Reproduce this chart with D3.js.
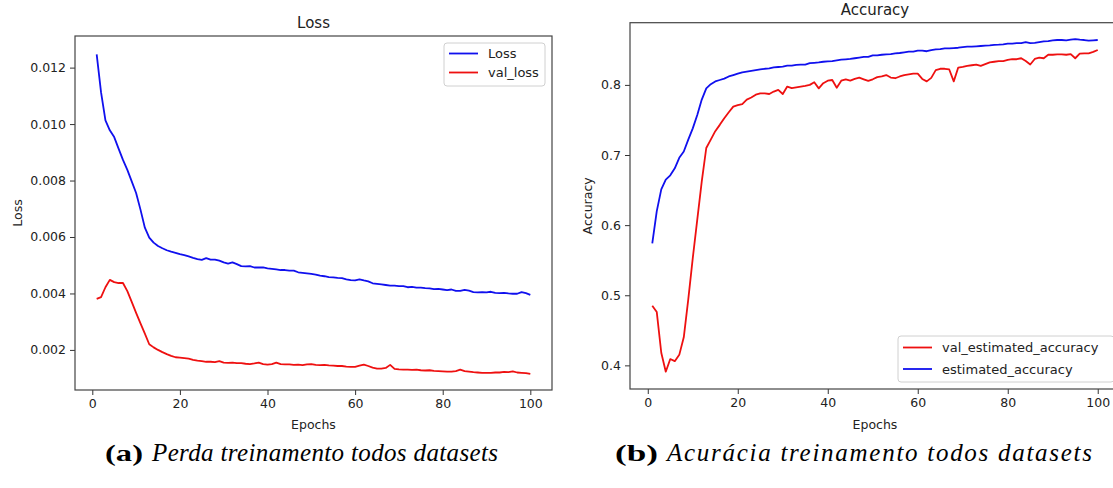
<!DOCTYPE html>
<html>
<head>
<meta charset="utf-8">
<script src="https://cdn.jsdelivr.net/npm/d3@7"></script>
<style>
  body { margin: 0; background: #fff; }
  text { font-family: "DejaVu Sans", sans-serif; fill: #222; }
  .caption text { font-family: "Liberation Serif", serif; fill: #000; }
</style>
</head>
<body>
<script>
// epochs 1..100
const epochs = d3.range(1, 101);

const loss = [0.01247,0.01112,0.01013,0.00978,0.00954,0.00913,0.00873,0.00838,0.00797,0.00756,
0.00697,0.00633,0.00598,0.0058,0.00568,0.0056,0.00553,0.00548,0.00544,0.00539,
0.00536,0.00531,0.00526,0.00522,0.00519,0.00525,0.0052,0.0052,0.00516,0.0051,
0.00506,0.0051,0.00504,0.00497,0.00496,0.00497,0.00492,0.00492,0.00492,0.00489,
0.00487,0.00485,0.00483,0.00483,0.00481,0.00481,0.00475,0.00473,0.00471,0.00469,
0.00467,0.00463,0.00461,0.00458,0.00457,0.00455,0.00454,0.0045,0.00447,0.00446,
0.0045,0.00446,0.00443,0.00436,0.00434,0.00432,0.0043,0.00428,0.00428,0.00426,
0.00426,0.00422,0.00423,0.00421,0.00421,0.00419,0.00418,0.00415,0.00416,0.00414,
0.00412,0.00414,0.00409,0.00409,0.00413,0.0041,0.00405,0.00404,0.00405,0.00404,
0.00406,0.00402,0.00401,0.00402,0.004,0.00399,0.00399,0.00405,0.00401,0.00395];

const valLoss = [0.00381,0.00387,0.00422,0.00448,0.0044,0.00437,0.00437,0.00408,0.0037,0.00331,
0.00294,0.00258,0.0022,0.00209,0.002,0.00192,0.00185,0.00179,0.00174,0.00173,
0.00171,0.00169,0.00165,0.00162,0.0016,0.00158,0.00158,0.00157,0.0016,0.00155,
0.00154,0.00155,0.00153,0.00153,0.00151,0.0015,0.00152,0.00155,0.0015,0.00148,
0.0015,0.00155,0.0015,0.00149,0.00149,0.00147,0.00148,0.00146,0.00149,0.0015,
0.00147,0.00146,0.00147,0.00145,0.00144,0.00143,0.00143,0.00141,0.0014,0.0014,
0.00144,0.00148,0.00143,0.00137,0.00134,0.00134,0.00136,0.00147,0.00133,0.00131,
0.0013,0.0013,0.00129,0.0013,0.00128,0.00127,0.00128,0.00126,0.00125,0.00124,
0.00123,0.00123,0.00125,0.0013,0.00125,0.00123,0.00121,0.0012,0.00119,0.00119,
0.00119,0.0012,0.0012,0.00122,0.00121,0.00124,0.0012,0.00119,0.00118,0.00115];

const estAcc = [0.574,0.62,0.651,0.665,0.671,0.681,0.696,0.705,0.722,0.738,
0.757,0.779,0.795,0.801,0.805,0.807,0.809,0.812,0.814,0.816,
0.818,0.819,0.82,0.821,0.822,0.823,0.8235,0.825,0.8255,0.826,
0.8275,0.8275,0.8285,0.829,0.829,0.831,0.8315,0.832,0.833,0.8335,
0.834,0.835,0.836,0.8365,0.837,0.838,0.839,0.84,0.84,0.842,
0.842,0.843,0.8436,0.844,0.845,0.8455,0.8465,0.8474,0.8474,0.8488,
0.849,0.848,0.8497,0.8507,0.851,0.852,0.852,0.8525,0.853,0.854,
0.8545,0.8545,0.855,0.8555,0.856,0.8564,0.857,0.8573,0.8578,0.859,
0.859,0.8595,0.8595,0.861,0.8597,0.86,0.861,0.862,0.8625,0.8635,
0.864,0.864,0.8635,0.8645,0.8654,0.8645,0.864,0.863,0.8635,0.864];

const valEstAcc = [0.485,0.476,0.418,0.391,0.409,0.406,0.415,0.44,0.494,0.553,
0.608,0.6625,0.71,0.722,0.734,0.743,0.7525,0.761,0.769,0.771,
0.7725,0.779,0.782,0.786,0.788,0.788,0.787,0.7905,0.793,0.787,
0.7976,0.7955,0.7965,0.7976,0.7986,0.8,0.8038,0.795,0.8024,0.806,
0.807,0.796,0.806,0.808,0.806,0.8085,0.8104,0.808,0.8057,0.808,
0.811,0.812,0.814,0.8105,0.8095,0.812,0.814,0.815,0.816,0.816,
0.8085,0.805,0.81,0.821,0.823,0.823,0.822,0.805,0.8247,0.8256,
0.827,0.828,0.829,0.827,0.8295,0.832,0.833,0.834,0.834,0.8356,
0.8366,0.8366,0.838,0.834,0.829,0.837,0.839,0.838,0.843,0.843,
0.8435,0.8436,0.843,0.844,0.838,0.8446,0.845,0.845,0.847,0.8498];

const xTicks = [0, 20, 40, 60, 80, 100];
const lossTicks = [0.002, 0.004, 0.006, 0.008, 0.010, 0.012];
const accTicks = [0.4, 0.5, 0.6, 0.7, 0.8];

const width = 1113, height = 488;
const svg = d3.select('body').append('svg').attr('width', width).attr('height', height);

function panel(cfg) {
  const x = d3.scaleLinear().domain([-3.95, 104.95]).range([cfg.left, cfg.right]);
  const y = d3.scaleLinear().domain(cfg.yDomain).range([cfg.bottom, cfg.top]);
  const g = svg.append('g');

  // axes
  const xa = g.append('g').attr('transform', `translate(0,${cfg.bottom})`)
    .call(d3.axisBottom(x).tickValues(xTicks).tickSize(5).tickPadding(4));
  const ya = g.append('g').attr('transform', `translate(${cfg.left},0)`)
    .call(d3.axisLeft(y).tickValues(cfg.yTicks).tickFormat(d3.format(cfg.fmt)).tickSize(5).tickPadding(4));
  [xa, ya].forEach(a => {
    a.select('.domain').remove();
    a.selectAll('.tick line').attr('stroke', '#333').attr('stroke-width', 1);
    a.selectAll('.tick text').attr('font-size', 12.5).attr('fill', '#222')
      .style('font-family', '"DejaVu Sans", sans-serif');
  });

  // lines
  cfg.series.forEach(s => {
    const line = d3.line().x((d, i) => x(epochs[i])).y(d => y(d));
    g.append('path').datum(s.values).attr('d', line)
      .attr('fill', 'none').attr('stroke', s.color).attr('stroke-width', 1.8)
      .attr('stroke-linejoin', 'round');
  });

  // frame
  g.append('rect').attr('x', cfg.left).attr('y', cfg.top)
    .attr('width', cfg.right - cfg.left).attr('height', cfg.bottom - cfg.top)
    .attr('fill', 'none').attr('stroke', '#444').attr('stroke-width', 1.2);

  // titles and labels
  const cx = (cfg.left + cfg.right) / 2;
  g.append('text').attr('x', cx).attr('y', cfg.titleY).attr('text-anchor', 'middle')
    .attr('font-size', 15).text(cfg.title);
  g.append('text').attr('x', cx).attr('y', 429).attr('text-anchor', 'middle')
    .attr('font-size', 12.5).text('Epochs');
  g.append('text').attr('transform', `translate(${cfg.yLabelX},${(cfg.top + cfg.bottom) / 2}) rotate(-90)`)
    .attr('text-anchor', 'middle').attr('font-size', 12.5).text(cfg.yLabel);

  // legend
  const L = cfg.legend;
  const lg = g.append('g');
  lg.append('rect').attr('x', L.x).attr('y', L.y).attr('width', L.w).attr('height', L.h)
    .attr('rx', 3).attr('fill', '#fff').attr('fill-opacity', 0.85)
    .attr('stroke', '#d0d0d0').attr('stroke-width', 1);
  L.items.forEach((it, i) => {
    const yy = L.y + L.first + i * L.step;
    lg.append('line').attr('x1', L.x + 5).attr('x2', L.x + 34).attr('y1', yy).attr('y2', yy)
      .attr('stroke', it.color).attr('stroke-width', 1.8);
    lg.append('text').attr('x', L.x + 44).attr('y', yy + 4.8).attr('font-size', 13).text(it.label);
  });
}

panel({
  left: 75, right: 552, top: 36, bottom: 390,
  yDomain: [0.00058, 0.01312], yTicks: lossTicks, fmt: '.3f',
  title: 'Loss', titleY: 28, yLabel: 'Loss', yLabelX: 22,
  series: [{ values: loss, color: '#1010ee' }, { values: valLoss, color: '#ee1010' }],
  legend: { x: 444, y: 43, w: 101, h: 43, first: 10.5, step: 19,
    items: [{ label: 'Loss', color: '#1010ee' }, { label: 'val_loss', color: '#ee1010' }] }
});

panel({
  left: 630, right: 1120, top: 22.7, bottom: 389,
  yDomain: [0.3663, 0.8887], yTicks: accTicks, fmt: '.1f',
  title: 'Accuracy', titleY: 15, yLabel: 'Accuracy', yLabelX: 592,
  series: [{ values: valEstAcc, color: '#ee1010' }, { values: estAcc, color: '#1010ee' }],
  legend: { x: 898, y: 336, w: 216, h: 46, first: 11.5, step: 21.5,
    items: [{ label: 'val_estimated_accuracy', color: '#ee1010' }, { label: 'estimated_accuracy', color: '#1010ee' }] }
});

// captions
function caption(tag, txt, x0, x1, x2) {
  const c = svg.append('g').attr('class', 'caption');
  c.append('text').attr('x', x0).attr('y', 461).attr('font-size', 24).attr('font-weight', 'bold')
    .attr('textLength', x1 - x0).attr('lengthAdjust', 'spacingAndGlyphs').text(tag);
  c.append('text').attr('x', x1 + 9).attr('y', 461).attr('font-size', 25).attr('font-style', 'italic')
    .attr('textLength', x2 - x1 - 9).attr('lengthAdjust', 'spacing').text(txt);
}
caption('(a)', 'Perda treinamento todos datasets', 105, 143, 498);
caption('(b)', 'Acurácia treinamento todos datasets', 615, 658, 1092);
</script>
</body>
</html>
